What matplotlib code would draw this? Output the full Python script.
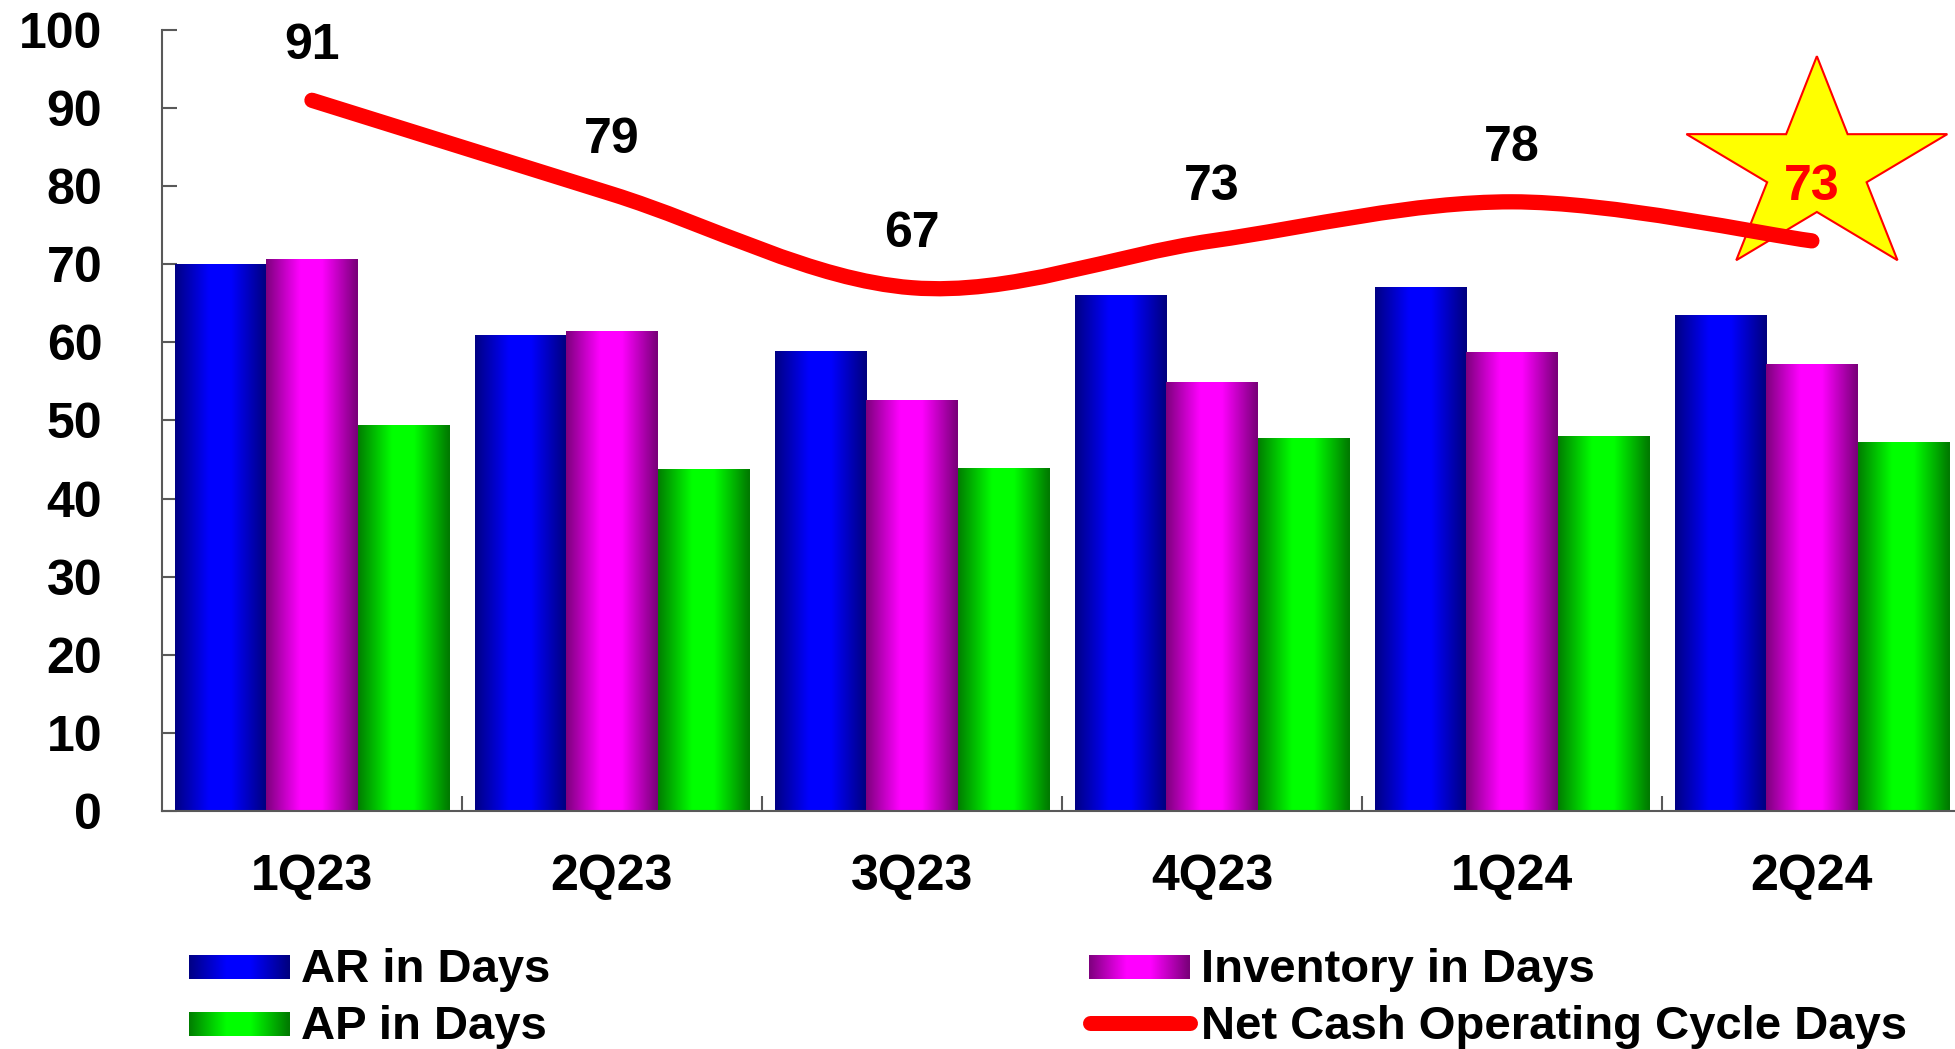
import numpy as np
import matplotlib
matplotlib.use('Agg')
import matplotlib.pyplot as plt
from matplotlib.path import Path
from matplotlib.patches import PathPatch, Polygon
import matplotlib.transforms as mtransforms

quarters = ['1Q23', '2Q23', '3Q23', '4Q23', '1Q24', '2Q24']
ar_days = [70.0, 60.9, 58.8, 66.0, 67.0, 63.5]
inv_days = [70.6, 61.4, 52.6, 54.9, 58.7, 57.2]
ap_days = [49.4, 43.7, 43.9, 47.7, 48.0, 47.2]
net_cycle = [91, 79, 67, 73, 78, 73]

plt.rcParams['font.family'] = ['Liberation Sans', 'DejaVu Sans']
plt.rcParams['font.weight'] = 'bold'

fig = plt.figure(figsize=(19.56, 10.49), dpi=100)
ax = fig.add_axes([0.0828, 0.2269, 0.9202, 0.7445])

def gradient(dark, bright, n=256):
    # dark edges, bright band in the middle
    t = np.linspace(0, 1, n)
    f = np.clip((0.5 - np.abs(t - 0.49)) / 0.38, 0, 1)
    dark = np.array(matplotlib.colors.to_rgb(dark))
    bright = np.array(matplotlib.colors.to_rgb(bright))
    img = dark[None, :] + (bright - dark)[None, :] * f[:, None]
    return img[None, :, :]

grad_blue = gradient('#000080', '#0000ff')
grad_mag = gradient('#7a007a', '#ff00ff')
grad_green = gradient('#007a00', '#00ff00')

x = np.arange(len(quarters))
w = 0.305
series = [(ar_days, -w, grad_blue), (inv_days, 0, grad_mag), (ap_days, w, grad_green)]
for vals, off, grad in series:
    bars = ax.bar(x + off, vals, w, color='none', edgecolor='none')
    for r in bars:
        ax.imshow(grad, extent=[r.get_x(), r.get_x() + r.get_width(), 0, r.get_height()],
                  aspect='auto', interpolation='bilinear', zorder=2)

ax.set_xlim(-0.5, 5.5)
ax.set_ylim(0, 100)

# smoothed net cash cycle line (bezier through the points)
pts = np.column_stack([x, np.array(net_cycle, float)])
ext = np.vstack([pts[0], pts, pts[-1]])
verts = [pts[0]]
codes = [Path.MOVETO]
for i in range(len(pts) - 1):
    p0, p1, p2, p3 = ext[i], ext[i + 1], ext[i + 2], ext[i + 3]
    verts += [p1 + (p2 - p0) / 6, p2 - (p3 - p1) / 6, p2]
    codes += [Path.CURVE4] * 3
line = PathPatch(Path(verts, codes), fill=False, edgecolor='#ff0000', lw=11,
                 capstyle='round', joinstyle='round', zorder=5)
ax.add_patch(line)

# star behind last label
lab_off = 6.9
R, r, sx = 1.128, 0.43, 1.216
ang = np.deg2rad(90 + 36 * np.arange(10))
rad = np.where(np.arange(10) % 2 == 0, R, r)
star_xy = np.column_stack([sx * rad * np.cos(ang) + 0.05, rad * np.sin(ang) + 0.18])
trans = fig.dpi_scale_trans + mtransforms.ScaledTranslation(x[-1], net_cycle[-1] + lab_off, ax.transData)
ax.add_patch(Polygon(star_xy, closed=True, facecolor='#ffff00', edgecolor='#ff0000',
                     lw=1.5, transform=trans, zorder=4, clip_on=False))

for i, v in enumerate(net_cycle):
    ax.text(x[i], v + lab_off, str(v), ha='center', va='center', fontsize=36,
            color='#ff0000' if i == len(net_cycle) - 1 else 'black', zorder=6)

# axes styling
for s in ['top', 'right']:
    ax.spines[s].set_visible(False)
for s in ['left', 'bottom']:
    ax.spines[s].set_color('#595959')
    ax.spines[s].set_linewidth(1.5)
ax.set_yticks(range(0, 101, 10))
ax.tick_params(axis='y', direction='in', length=10.8, width=1.5, color='#595959',
               labelsize=36, pad=43)
ax.set_xticks(x)
ax.set_xticklabels(quarters)
ax.tick_params(axis='x', which='major', length=0, labelsize=36, pad=31)
ax.set_xticks(x[:-1] + 0.5, minor=True)
ax.tick_params(axis='x', which='minor', direction='in', length=10.8, width=1.5, color='#595959')

# legend drawn by hand in pixel space
lax = fig.add_axes([0, 0, 1, 1])
lax.set_xlim(0, 1956)
lax.set_ylim(1049, 0)
lax.axis('off')
leg_items = [('AR in Days', grad_blue, 189, 967),
             ('AP in Days', grad_green, 189, 1024),
             ('Inventory in Days', grad_mag, 1089, 967)]
for label, grad, lx, ly in leg_items:
    lax.imshow(grad, extent=[lx, lx + 101, ly + 12, ly - 12], aspect='auto', interpolation='bilinear')
    lax.text(lx + 112, ly + 15, label, fontsize=34, va='baseline', ha='left')
lax.plot([1090, 1190], [1023, 1023], color='#ff0000', lw=10.8, solid_capstyle='round')
lax.text(1201, 1039, 'Net Cash Operating Cycle Days', fontsize=34, va='baseline', ha='left')
lax.set_xlim(0, 1956)
lax.set_ylim(1049, 0)

fig.savefig('out.png', dpi=100)
